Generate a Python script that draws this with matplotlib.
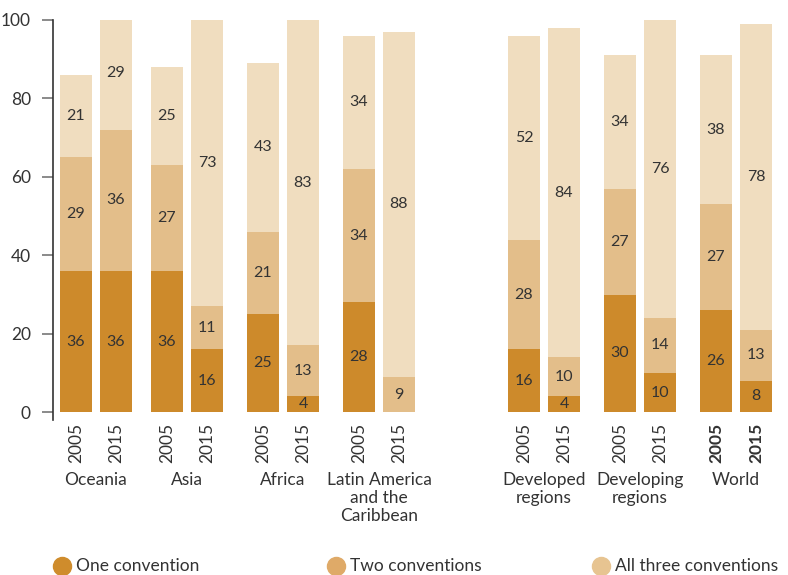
import numpy as np
import matplotlib
matplotlib.use("Agg")
import matplotlib.pyplot as plt
from matplotlib.lines import Line2D
import matplotlib.transforms as mtransforms

plt.rcParams['font.family'] = ['Lato', 'DejaVu Sans']

# data
regions = ["Oceania", "Asia", "Africa", "Latin America\nand the\nCaribbean",
           "Developed\nregions", "Developing\nregions", "World"]
years = ["2005", "2015"]
one_conv = [36, 36, 36, 16, 25, 4, 28, 0, 16, 4, 30, 10, 26, 8]
two_conv = [29, 36, 27, 11, 21, 13, 34, 9, 28, 10, 27, 14, 27, 13]
three_conv = [21, 29, 25, 73, 43, 83, 34, 88, 52, 84, 34, 76, 38, 78]
series_names = ["One convention", "Two conventions", "All three conventions"]

bar_colors = ["#CD8A2B", "#E3BE8A", "#F0DDBF"]
legend_colors = ["#CF8C2C", "#DFAA68", "#E7C491"]
txt = "#333333"

# layout (pixel-like x units)
group_centers = [96, 187, 283, 379, 544, 640, 736]
xs = []
for c in group_centers:
    xs += [c - 20, c + 20]
xs = np.array(xs)

fig = plt.figure(figsize=(7.88, 5.75), dpi=100)
ax = fig.add_axes([53 / 788, 1 - 420 / 575, 1 - 53 / 788, 400 / 575])

bottom = np.zeros(len(xs))
for vals, col in zip([one_conv, two_conv, three_conv], bar_colors):
    vals = np.array(vals)
    ax.bar(xs, vals, width=32, bottom=bottom, color=col, linewidth=0)
    for x, b, v in zip(xs, bottom, vals):
        if v > 0:
            ax.text(x, b + v / 2, str(v), ha="center", va="center",
                    fontsize=11.5, color=txt)
    bottom = bottom + vals

ax.set_xlim(53, 788)
ax.set_ylim(-2, 100)
ax.set_yticks([0, 20, 40, 60, 80, 100])
ax.tick_params(axis="y", length=8, width=1.2, color="#777777", labelsize=12.5,
               labelcolor=txt, pad=8)
ax.set_xticks(xs)
ax.set_xticklabels(years * len(regions), rotation=90, fontsize=12.5, color=txt)
ax.tick_params(axis="x", length=0, pad=2)
for lab in ax.get_xticklabels()[-2:]:
    lab.set_fontweight("bold")

for s in ["top", "right", "bottom"]:
    ax.spines[s].set_visible(False)
ax.spines["left"].set_color("#333333")
ax.spines["left"].set_linewidth(1.2)

trans = mtransforms.blended_transform_factory(ax.transData, fig.transFigure)
for c, name in zip(group_centers, regions):
    ax.text(c, 1 - 472 / 575, name, transform=trans, ha="center", va="top",
            fontsize=12.5, color=txt, linespacing=1.15)

# legend
leg_x = [62, 336, 601]
leg_y = 1 - 566 / 575
for lx, name, col in zip(leg_x, series_names, legend_colors):
    fig.add_artist(Line2D([lx / 788], [leg_y], marker="o", markersize=13,
                          color=col, transform=fig.transFigure))
    fig.text((lx + 14) / 788, leg_y, name, ha="left", va="center",
             fontsize=12.5, color=txt)

fig.savefig("out.png", dpi=100)
